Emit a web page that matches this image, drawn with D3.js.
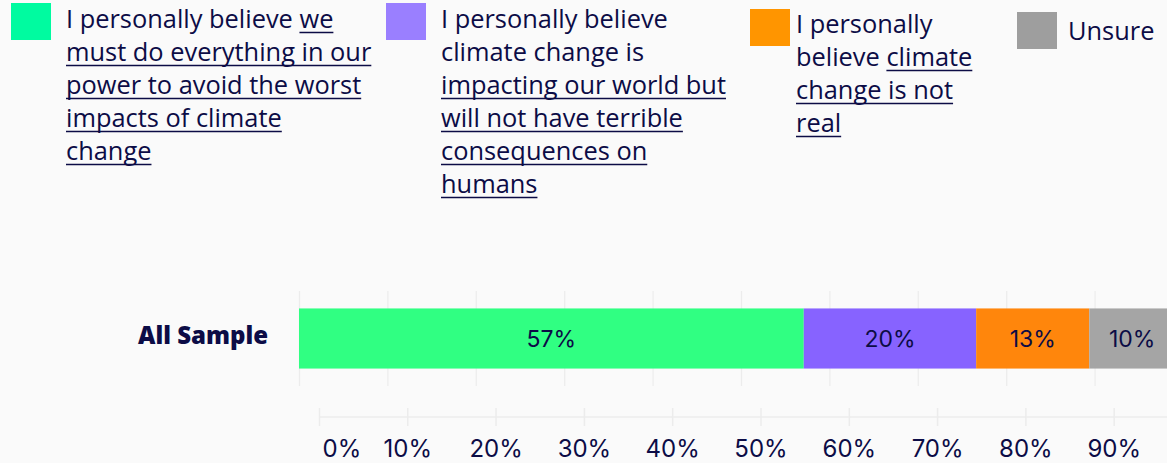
<!DOCTYPE html>
<html>
<head>
<meta charset="utf-8">
<script src="https://cdn.jsdelivr.net/npm/d3@7"></script>
<style>
  html, body { margin: 0; padding: 0; background: #fafafa; }
  svg { display: block; }
</style>
</head>
<body>
<svg id="chart" width="1167" height="463"></svg>
<script>
// ---- data ----
const categories = ["All Sample"];
const seriesNames = [
  "I personally believe we must do everything in our power to avoid the worst impacts of climate change",
  "I personally believe climate change is impacting our world but will not have terrible consequences on humans",
  "I personally believe climate change is not real",
  "Unsure"
];
const seriesValues = [57.1, 19.5, 12.8, 10.4];
const tickValues = [0, 10, 20, 30, 40, 50, 60, 70, 80, 90];
const tickLabels = ["0%", "10%", "20%", "30%", "40%", "50%", "60%", "70%", "80%", "90%"];
// legend text lines: [text, underlined]
const legendLines = [
  [[["I personally believe ", false], ["we", true]],
   [["must do everything in our", true]],
   [["power to avoid the worst", true]],
   [["impacts of climate", true]],
   [["change", true]]],
  [[["I personally believe", false]],
   [["climate change is", false]],
   [["impacting our world but", true]],
   [["will not have terrible", true]],
   [["consequences on", true]],
   [["humans", true]]],
  [[["I personally", false]],
   [["believe ", false], ["climate", true]],
   [["change is not", true]],
   [["real", true]]],
  [[["Unsure", false]]]
];

// ---- styles / layout ----
const barColors = ["#30ff82", "#8763ff", "#ff860c", "#a5a5a5"];
const swatchColors = ["#00fba0", "#9a7fff", "#ff9500", "#9e9e9e"];
const ink = "#0c0c46";
const legendLayout = [
  {sx: 11, sy: 3, tx: 66, ty: 28},
  {sx: 386, sy: 3, tx: 441, ty: 28},
  {sx: 750, sy: 9, tx: 796, ty: 33},
  {sx: 1017, sy: 12, tx: 1068, ty: 40}
];
const legendFont = "'Open Sans', 'Noto Sans', sans-serif";
const numFont = "Inter, 'Noto Sans', sans-serif";

const svg = d3.select("#chart");

// fit legend font size so that "I personally believe" is ~227px wide
const probe = svg.append("text").attr("font-family", legendFont).attr("font-size", 20).text("I personally believe");
const legendSize = 20 * 227 / probe.node().getComputedTextLength();
probe.remove();

// ---- legend ----
legendLines.forEach((lines, i) => {
  const L = legendLayout[i];
  const g = svg.append("g");
  g.append("rect").attr("x", L.sx).attr("y", L.sy).attr("width", 40).attr("height", 37).attr("fill", swatchColors[i]);
  lines.forEach((segs, j) => {
    const y = L.ty + j * 33;
    let x = L.tx;
    segs.forEach(([txt, ul]) => {
      const t = g.append("text")
        .attr("x", x).attr("y", y)
        .attr("font-family", legendFont).attr("font-size", legendSize)
        .attr("fill", ink)
        .style("white-space", "pre")
        .text(txt);
      const w = t.node().getComputedTextLength();
      if (ul) {
        g.append("line").attr("x1", x).attr("x2", x + w)
          .attr("y1", y + 4.5).attr("y2", y + 4.5)
          .attr("stroke", ink).attr("stroke-width", 1.6);
      }
      x += w;
    });
  });
});

// ---- bar ----
const x = d3.scaleLinear().domain([0, 100]).range([299, 1183]);
const y = d3.scaleBand().domain(categories).range([291, 386]).paddingInner(0).paddingOuter(0.29);

// grid lines
const grid = svg.append("g").attr("transform", `translate(0,${y.range()[0]})`)
  .call(d3.axisBottom(x).tickValues(tickValues.concat([100])).tickSize(y.range()[1] - y.range()[0]).tickFormat(""));
grid.select(".domain").remove();
grid.selectAll("line").attr("stroke", "#ececec").attr("stroke-width", 1.2);

let cum = 0;
const segs = seriesValues.map((v, i) => { const s = {i, v, x0: cum, x1: cum + v}; cum += v; return s; });

svg.append("g").selectAll("rect").data(segs).join("rect")
  .attr("x", d => x(d.x0)).attr("width", d => x(d.x1) - x(d.x0))
  .attr("y", y(categories[0])).attr("height", y.bandwidth())
  .attr("fill", d => barColors[d.i]);

svg.append("g").selectAll("text").data(segs).join("text")
  .attr("x", d => (x(d.x0) + Math.min(x(d.x1), 1175)) / 2)
  .attr("y", y(categories[0]) + y.bandwidth() / 2)
  .attr("dy", "0.36em")
  .attr("text-anchor", "middle")
  .attr("font-family", numFont).attr("font-size", 23)
  .attr("fill", ink)
  .text(d => Math.round(d.v) + "%");

// category label
svg.append("text")
  .attr("x", 268).attr("y", y(categories[0]) + y.bandwidth() / 2 - 3)
  .attr("dy", "0.34em")
  .attr("text-anchor", "end")
  .attr("font-family", "'Open Sans', sans-serif").attr("font-weight", 800).attr("font-size", 24)
  .attr("fill", ink)
  .text(categories[0]);

// ---- bottom axis ----
const xa = d3.scaleLinear().domain([0, 100]).range([319, 1202]);
const ax = svg.append("g").attr("transform", "translate(0,417)")
  .call(d3.axisBottom(xa).tickValues(tickValues).tickSize(9).tickPadding(14).tickFormat((d, i) => tickLabels[i]));
ax.select(".domain").attr("d", `M${xa(0)},0H1167`).attr("stroke", "#ececec").attr("stroke-width", 1.5);
ax.selectAll(".tick line").attr("y1", -9).attr("y2", 9).attr("stroke", "#ececec").attr("stroke-width", 1.5);
ax.selectAll(".tick text")
  .attr("font-family", numFont).attr("font-size", 24).attr("fill", ink)
  .attr("y", 40).attr("dy", 0);
ax.selectAll(".tick text").filter((d) => d === 0).attr("text-anchor", "start").attr("x", 3);
</script>
</body>
</html>
